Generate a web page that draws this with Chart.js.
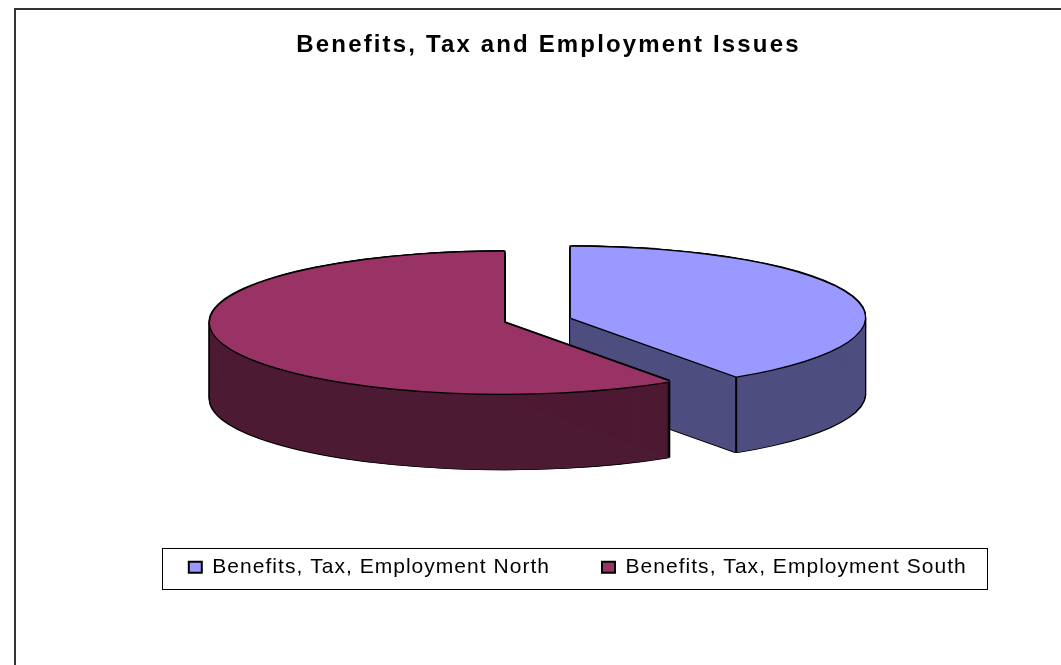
<!DOCTYPE html>
<html>
<head>
<meta charset="utf-8">
<title>Benefits, Tax and Employment Issues</title>
<script src="https://cdn.jsdelivr.net/npm/chart.js@4"></script>
<style>
  html, body { margin: 0; padding: 0; background: #fff; overflow: hidden; }
  canvas { display: block; }
</style>
</head>
<body>
<canvas id="myChart" width="1061" height="665"></canvas>
<script>
const titleText = 'Benefits, Tax and Employment Issues';
const categories = ['Benefits, Tax, Employment North', 'Benefits, Tax, Employment South'];
const shares = [40.5, 59.5];
const topColours = ['#9999FF', '#993366'];
const sideColours = ['#4D4D80', '#4D1A33'];
const exploded = [70, 0];

// look of the fake 3d pie
const pieX = 504, pieY = 322.7, radius = 294, squash = 71 / 294, depth = 76, rim = 1.4;

// draws one arc element squashed into an ellipse, in a given colour
function drawSlice(ctx, arc, i, dx, dy, colour) {
    const mid = (arc.startAngle + arc.endAngle) / 2;
    const ex = exploded[i] * Math.cos(mid);
    const ey = exploded[i] * Math.sin(mid) * squash;
    const saved = arc.options;
    arc.options = Object.assign({}, saved, { backgroundColor: colour, borderWidth: 0 });
    ctx.save();
    ctx.translate(pieX + ex + dx, pieY + ey + dy);
    ctx.scale(1, squash);
    ctx.translate(-arc.x, -arc.y);
    arc.draw(ctx);
    ctx.restore();
    arc.options = saved;
}

// vertical edge under a rim corner that faces the viewer
function drawCorner(ctx, arc, i, angle) {
    if (Math.sin(angle) <= 0) return;
    const mid = (arc.startAngle + arc.endAngle) / 2;
    const x = pieX + exploded[i] * Math.cos(mid) + radius * Math.cos(angle);
    const y = pieY + (exploded[i] * Math.sin(mid) + radius * Math.sin(angle)) * squash;
    ctx.save();
    ctx.strokeStyle = '#000';
    ctx.lineWidth = 2;
    ctx.beginPath();
    ctx.moveTo(x, y);
    ctx.lineTo(x, y + depth);
    ctx.stroke();
    ctx.restore();
}

// Chart.js has no letter spacing option, so set it on the context round the box's draw
function spaceLetters(box, ctx, spacing) {
    const draw = box.draw;
    box.draw = function (area) {
        ctx.letterSpacing = spacing;
        draw.call(box, area);
        ctx.letterSpacing = '0px';
    };
}

const pie3d = {
    id: 'pie3d',
    afterLayout(chart) {
        const title = chart.titleBlock;
        const lineHeight = 28.8;
        title.left = 0;
        title.right = 1097;
        title.top = 45.7 - lineHeight / 2;
        const legend = chart.legend;
        const pad = legend.options.labels.padding;
        legend.left = 188.8 - pad;
        legend.right = 1400;
        legend.top = 567.3 - pad - 10.5;
        if (!chart.$spaced) {
            spaceLetters(title, chart.ctx, '2.15px');
            spaceLetters(legend, chart.ctx, '1.03px');
            chart.$spaced = true;
        }
    },
    beforeDraw(chart) {
        // outer frame runs off the page on the right and at the bottom
        const ctx = chart.ctx;
        ctx.save();
        ctx.strokeStyle = '#333';
        ctx.lineWidth = 2;
        ctx.beginPath();
        ctx.moveTo(15, 665);
        ctx.lineTo(15, 9);
        ctx.lineTo(1061, 9);
        ctx.stroke();
        // legend box
        ctx.strokeStyle = '#000';
        ctx.lineWidth = 1;
        ctx.strokeRect(162.5, 548.5, 825, 41);
        ctx.restore();
    },
    beforeDatasetsDraw(chart) {
        const ctx = chart.ctx;
        chart.getDatasetMeta(0).data.forEach((arc, i) => {
            // black silhouette of the whole extruded slice
            for (let d = -rim; d <= depth + rim; d++) {
                drawSlice(ctx, arc, i, -rim, d, '#000');
                drawSlice(ctx, arc, i, rim, d, '#000');
            }
            for (let d = 1; d <= depth; d++) drawSlice(ctx, arc, i, 0, d, sideColours[i]);
            drawCorner(ctx, arc, i, arc.startAngle);
            drawCorner(ctx, arc, i, arc.endAngle);
            // rim line and top face
            drawSlice(ctx, arc, i, -rim, 0, '#000');
            drawSlice(ctx, arc, i, rim, 0, '#000');
            drawSlice(ctx, arc, i, 0, -rim, '#000');
            drawSlice(ctx, arc, i, 0, rim, '#000');
            drawSlice(ctx, arc, i, 0, 0, topColours[i]);
        });
        return false;
    }
};

new Chart(document.getElementById('myChart').getContext('2d'), {
    type: 'pie',
    data: {
        labels: categories,
        datasets: [{
            data: shares,
            backgroundColor: topColours,
            borderColor: '#000',
            borderWidth: 2
        }]
    },
    options: {
        responsive: false,
        animation: false,
        radius: radius,
        plugins: {
            tooltip: { enabled: false },
            title: {
                display: true,
                text: titleText,
                color: '#000',
                padding: 0,
                font: { family: '"Liberation Sans"', size: 24, weight: 'bold' }
            },
            legend: {
                position: 'bottom',
                align: 'start',
                labels: {
                    boxWidth: 13,
                    boxHeight: 11,
                    padding: 52,
                    color: '#000',
                    font: { family: '"Liberation Sans"', size: 21 }
                }
            }
        }
    },
    plugins: [pie3d]
});
</script>
</body>
</html>
